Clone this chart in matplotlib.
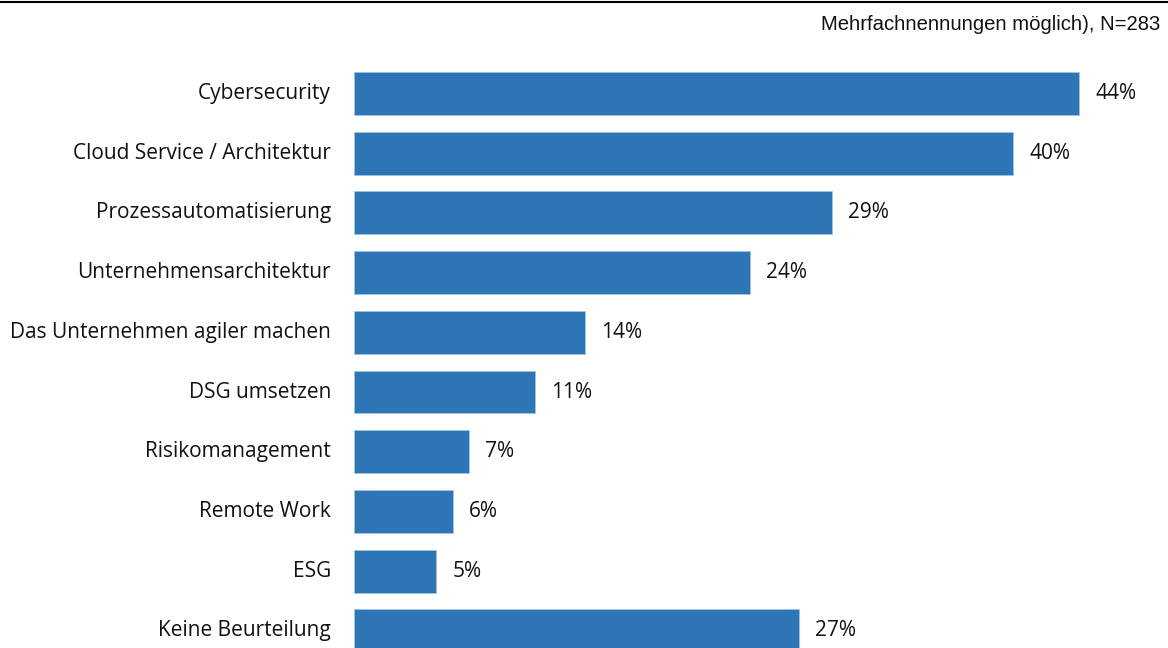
import numpy as np
import matplotlib.pyplot as plt
from matplotlib.lines import Line2D

categories = ['Cybersecurity', 'Cloud Service / Architektur', 'Prozessautomatisierung',
              'Unternehmensarchitektur', 'Das Unternehmen agiler machen', 'DSG umsetzen',
              'Risikomanagement', 'Remote Work', 'ESG', 'Keine Beurteilung']
shares = [44, 40, 29, 24, 14, 11, 7, 6, 5, 27]
note = 'Mehrfachnennungen möglich), N=283'

bar_color = '#2E75B6'
label_font = 'Open Sans'

fig = plt.figure(figsize=(11.68, 6.48), dpi=100)
ax = fig.add_axes([354 / 1168, 0, 814 / 1168, 1])

y = np.arange(len(categories))
ax.barh(y, shares, height=0.72, color=bar_color, edgecolor='#9DC3E6', linewidth=0.6)

ax.set_xlim(0, 814 / 16.48)
ax.set_ylim((648 - 93.5) / 59.7, -93.5 / 59.7)
ax.axis('off')

# category names to the left of the bars, values to the right
for i, (cat, v) in enumerate(zip(categories, shares)):
    ax.annotate(cat, (0, i), xytext=(-23, 0), textcoords='offset pixels',
                ha='right', va='center', fontsize=15, family=label_font, color='#111111')
    ax.annotate(f'{v}%', (v, i), xytext=(16, 0), textcoords='offset pixels',
                ha='left', va='center', fontsize=15, family=label_font, color='#111111')

fig.text(1160 / 1168, 1 - 24 / 648, note, ha='right', va='center',
         fontsize=14.6, family='Liberation Sans', color='#111111')
fig.add_artist(Line2D([0, 1], [1 - 1.5 / 648, 1 - 1.5 / 648], color='black', linewidth=1.5,
                      transform=fig.transFigure))

fig.savefig('out.png', dpi=100)
